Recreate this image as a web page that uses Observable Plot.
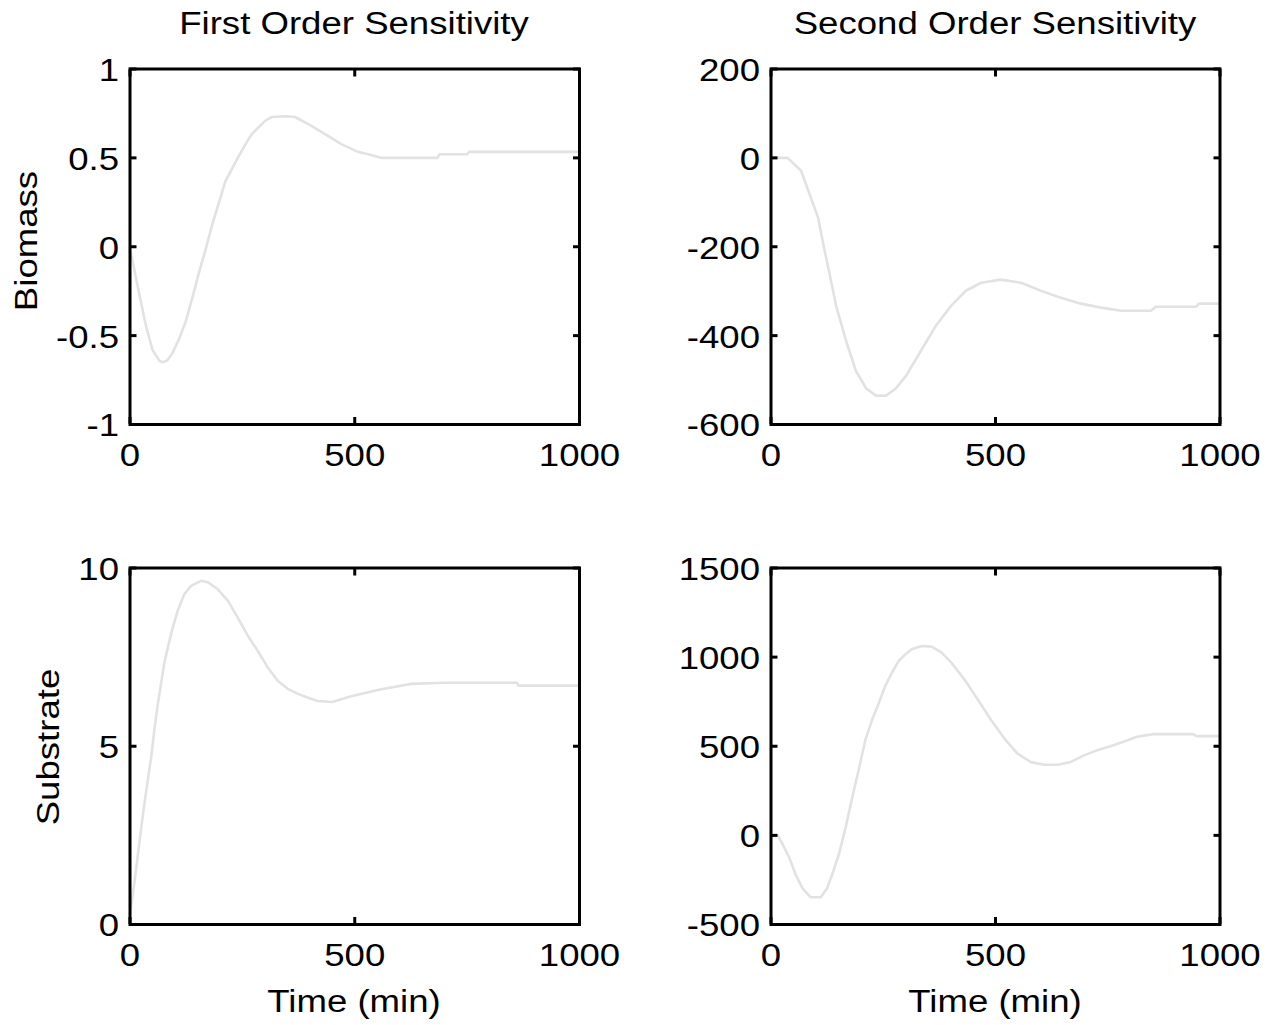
<!DOCTYPE html>
<html><head><meta charset="utf-8">
<script src="https://cdn.jsdelivr.net/npm/d3@7"></script>
<script src="https://cdn.jsdelivr.net/npm/@observablehq/plot@0.6"></script>
<style>
body{margin:0;background:#fff;}
#root{position:relative;width:1277px;height:1025px;overflow:hidden;background:#fff;font-family:"Liberation Sans",Arial,sans-serif;}
.lbl{position:absolute;font-size:31px;line-height:31px;white-space:nowrap;color:#000;}
.pan{position:absolute;}
</style></head><body><div id="root"></div>
<script>
// ---- data ----
const colTitles = ["First Order Sensitivity", "Second Order Sensitivity"];
const rowLabels = ["Biomass", "Substrate"];
const xLabel = "Time (min)";
const timeTicks = [0, 500, 1000];

const bio1T = [0, 5, 12, 21, 35, 50, 65, 72, 83, 94, 109, 124, 139, 153, 168, 183, 198, 212, 227, 242, 257, 271, 286, 301, 316, 345, 367, 397, 434, 470, 507, 530, 559, 684, 688, 750, 754, 1000];
const bio1V = [-0.02, -0.07, -0.16, -0.27, -0.44, -0.58, -0.64, -0.65, -0.64, -0.60, -0.52, -0.42, -0.285, -0.15, -0.017, 0.126, 0.25, 0.366, 0.44, 0.51, 0.577, 0.634, 0.672, 0.71, 0.73, 0.734, 0.73, 0.69, 0.634, 0.577, 0.534, 0.52, 0.50, 0.50, 0.52, 0.52, 0.534, 0.534];
const bio1Ticks = [-1, -0.5, 0, 0.5, 1];

const bio2T = [0, 37, 67, 89, 105, 118, 129, 145, 167, 189, 212, 234, 256, 278, 301, 334, 367, 401, 434, 468, 512, 557, 601, 646, 690, 735, 780, 846, 857, 947, 953, 1000];
const bio2V = [0, 0, -29, -90, -135, -202, -254, -333, -411, -479, -519, -535, -535, -519, -490, -434, -378, -333, -299, -281, -274, -281, -299, -315, -328, -337, -344, -344, -335, -335, -328, -328];
const bio2Ticks = [-600, -400, -200, 0, 200];

const sub1T = [0, 10, 20, 30, 40, 47, 54, 62, 69, 76, 84, 95, 106, 121, 136, 158, 173, 195, 218, 240, 262, 284, 307, 329, 351, 374, 396, 418, 450, 492, 559, 626, 700, 860, 865, 1000];
const sub1V = [0.3, 1.2, 2.2, 3.2, 4.1, 4.68, 5.43, 6.19, 6.75, 7.31, 7.76, 8.32, 8.8, 9.27, 9.5, 9.64, 9.6, 9.41, 9.08, 8.6, 8.1, 7.68, 7.2, 6.83, 6.61, 6.47, 6.36, 6.27, 6.24, 6.4, 6.6, 6.75, 6.78, 6.78, 6.7, 6.7];
const sub1Ticks = [0, 5, 10];

const sub2T = [0, 15, 26, 41, 55, 70, 88, 111, 125, 136, 151, 166, 181, 195, 210, 225, 240, 254, 269, 284, 299, 313, 336, 358, 380, 402, 431, 461, 490, 520, 549, 579, 608, 638, 667, 697, 726, 756, 785, 815, 852, 940, 948, 1000];
const sub2V = [0, 0, -51, -126, -221, -296, -347, -347, -296, -221, -108, 43, 213, 364, 534, 647, 742, 836, 911, 977, 1015, 1044, 1062, 1059, 1025, 968, 874, 760, 647, 543, 459, 411, 396, 396, 411, 449, 477, 500, 525, 553, 568, 568, 557, 557];
const sub2Ticks = [-500, 0, 500, 1000, 1500];

// ---- layout ----
const SX = 1.18; // horizontal glyph stretch of the original font
const root = document.getElementById("root");
const zip = (T, V) => T.map((t, i) => ({t, v: V[i]}));

const panels = [
  {data: zip(bio1T, bio1V), ticks: bio1Ticks, left: 0,   top: 0,   w: 640, h: 500, ml: 129.5, mr: 61,   mt: 68.5, mb: 76},
  {data: zip(bio2T, bio2V), ticks: bio2Ticks, left: 640, top: 0,   w: 637, h: 500, ml: 130.5, mr: 57.5, mt: 68.5, mb: 76},
  {data: zip(sub1T, sub1V), ticks: sub1Ticks, left: 0,   top: 500, w: 640, h: 525, ml: 129.5, mr: 61,   mt: 67.5, mb: 101},
  {data: zip(sub2T, sub2V), ticks: sub2Ticks, left: 640, top: 500, w: 637, h: 525, ml: 130.5, mr: 57.5, mt: 67.5, mb: 101}
];

const fmt = d => String(d);
const none = () => "";

for (const p of panels) {
  const yDom = [p.ticks[0], p.ticks[p.ticks.length - 1]];
  const svg = Plot.plot({
    width: p.w, height: p.h,
    marginLeft: p.ml, marginRight: p.mr, marginTop: p.mt, marginBottom: p.mb,
    style: {fontFamily: "'Liberation Sans', Arial, sans-serif", fontSize: "31px", color: "#000", background: "transparent", overflow: "visible"},
    x: {domain: [0, 1000]},
    y: {domain: yDom},
    marks: [
      Plot.line(p.data, {x: "t", y: "v", stroke: "#e2e2e2", strokeWidth: 2.6}),
      Plot.frame({stroke: "#000", strokeWidth: 3}),
      Plot.axisX({anchor: "bottom", ticks: timeTicks, tickSize: 7, dy: -7, tickFormat: none, strokeWidth: 3, label: null}),
      Plot.axisX({anchor: "top", ticks: timeTicks, tickSize: 7, dy: 7, tickFormat: none, strokeWidth: 3, label: null}),
      Plot.axisY({anchor: "left", ticks: p.ticks, tickSize: 7, dx: 7, tickFormat: none, strokeWidth: 3, label: null}),
      Plot.axisY({anchor: "right", ticks: p.ticks, tickSize: 7, dx: -7, tickFormat: none, strokeWidth: 3, label: null}),
      Plot.axisX({anchor: "bottom", ticks: timeTicks, tickSize: 0, tickPadding: 19, tickFormat: fmt, label: null}),
      Plot.axisY({anchor: "left", ticks: p.ticks, tickSize: 0, tickPadding: 11, dy: 2, tickFormat: fmt, label: null})
    ]
  });
  svg.querySelectorAll("text").forEach(t => {
    let tr = t.getAttribute("transform") || "";
    const x = t.getAttribute("x");
    if (x != null && x !== "" && !isNaN(+x)) { t.removeAttribute("x"); tr += ` translate(${x},0)`; }
    t.setAttribute("transform", tr + ` scale(${SX},1)`);
  });
  const wrap = document.createElement("div");
  wrap.className = "pan";
  wrap.style.left = p.left + "px";
  wrap.style.top = p.top + "px";
  wrap.appendChild(svg);
  root.appendChild(wrap);
}

function label(text, cx, top, rotate) {
  const d = document.createElement("div");
  d.className = "lbl";
  d.textContent = text;
  d.style.left = cx + "px";
  d.style.top = top + "px";
  d.style.transform = rotate
    ? `translate(-50%,-50%) rotate(-90deg) scaleX(${SX})`
    : `translateX(-50%) scaleX(${SX})`;
  root.appendChild(d);
}
label(colTitles[0], 354, 8);
label(colTitles[1], 995, 8);
label(xLabel, 354, 986);
label(xLabel, 995, 986);
label(rowLabels[0], 26, 241, true);
label(rowLabels[1], 48, 747, true);
</script></body></html>
